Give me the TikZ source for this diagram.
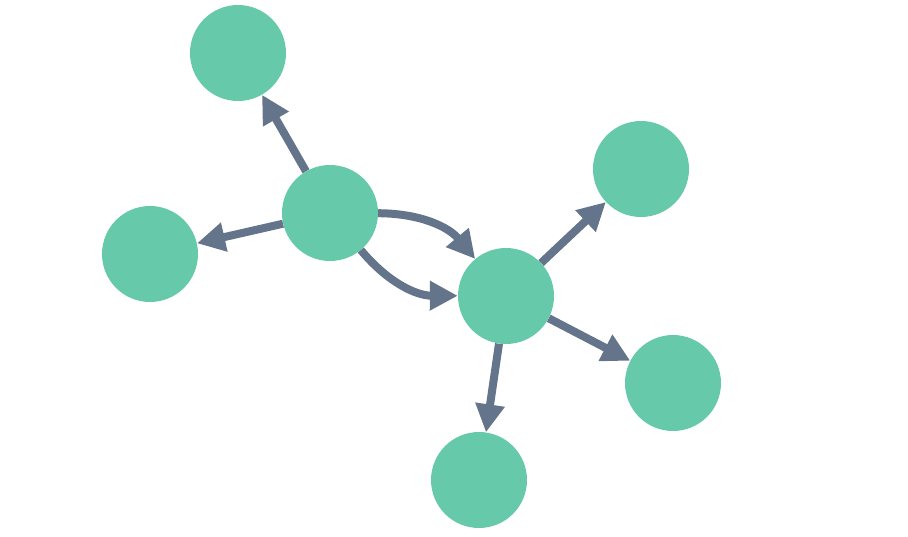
\documentclass[tikz,border=0pt]{standalone}
\usetikzlibrary{arrows.meta}
\definecolor{nodegreen}{HTML}{66CAAA}
\definecolor{edgegray}{HTML}{64748B}
\begin{document}
\begin{tikzpicture}[x=1pt,y=-1pt]
			\tikzstyle{vertex}=[circle,fill=nodegreen,draw=none,minimum size=96pt,inner sep=0pt]
			\tikzstyle{link}=[edgegray,line width=8pt,-{Triangle[length=28pt,width=28pt]}]
			\useasboundingbox (0,0) rectangle (908,536);
			\node [vertex] (top) at (238,53) {};
			\node [vertex] (left) at (150,254) {};
			\node [vertex] (hub) at (330,213) {};
			\node [vertex] (mid) at (506,296) {};
			\node [vertex] (right) at (641,169) {};
			\node [vertex] (lowright) at (673,383) {};
			\node [vertex] (bottom) at (479,480) {};
			\draw [link] (hub) -- (top);
			\draw [link] (hub) -- (left);
			\draw [link] (hub) to [bend left=25] (mid);
			\draw [link] (hub) to [bend right=25] (mid);
			\draw [link] (mid) -- (right);
			\draw [link] (mid) -- (lowright);
			\draw [link] (mid) -- (bottom);
		\end{tikzpicture}
\end{document}
